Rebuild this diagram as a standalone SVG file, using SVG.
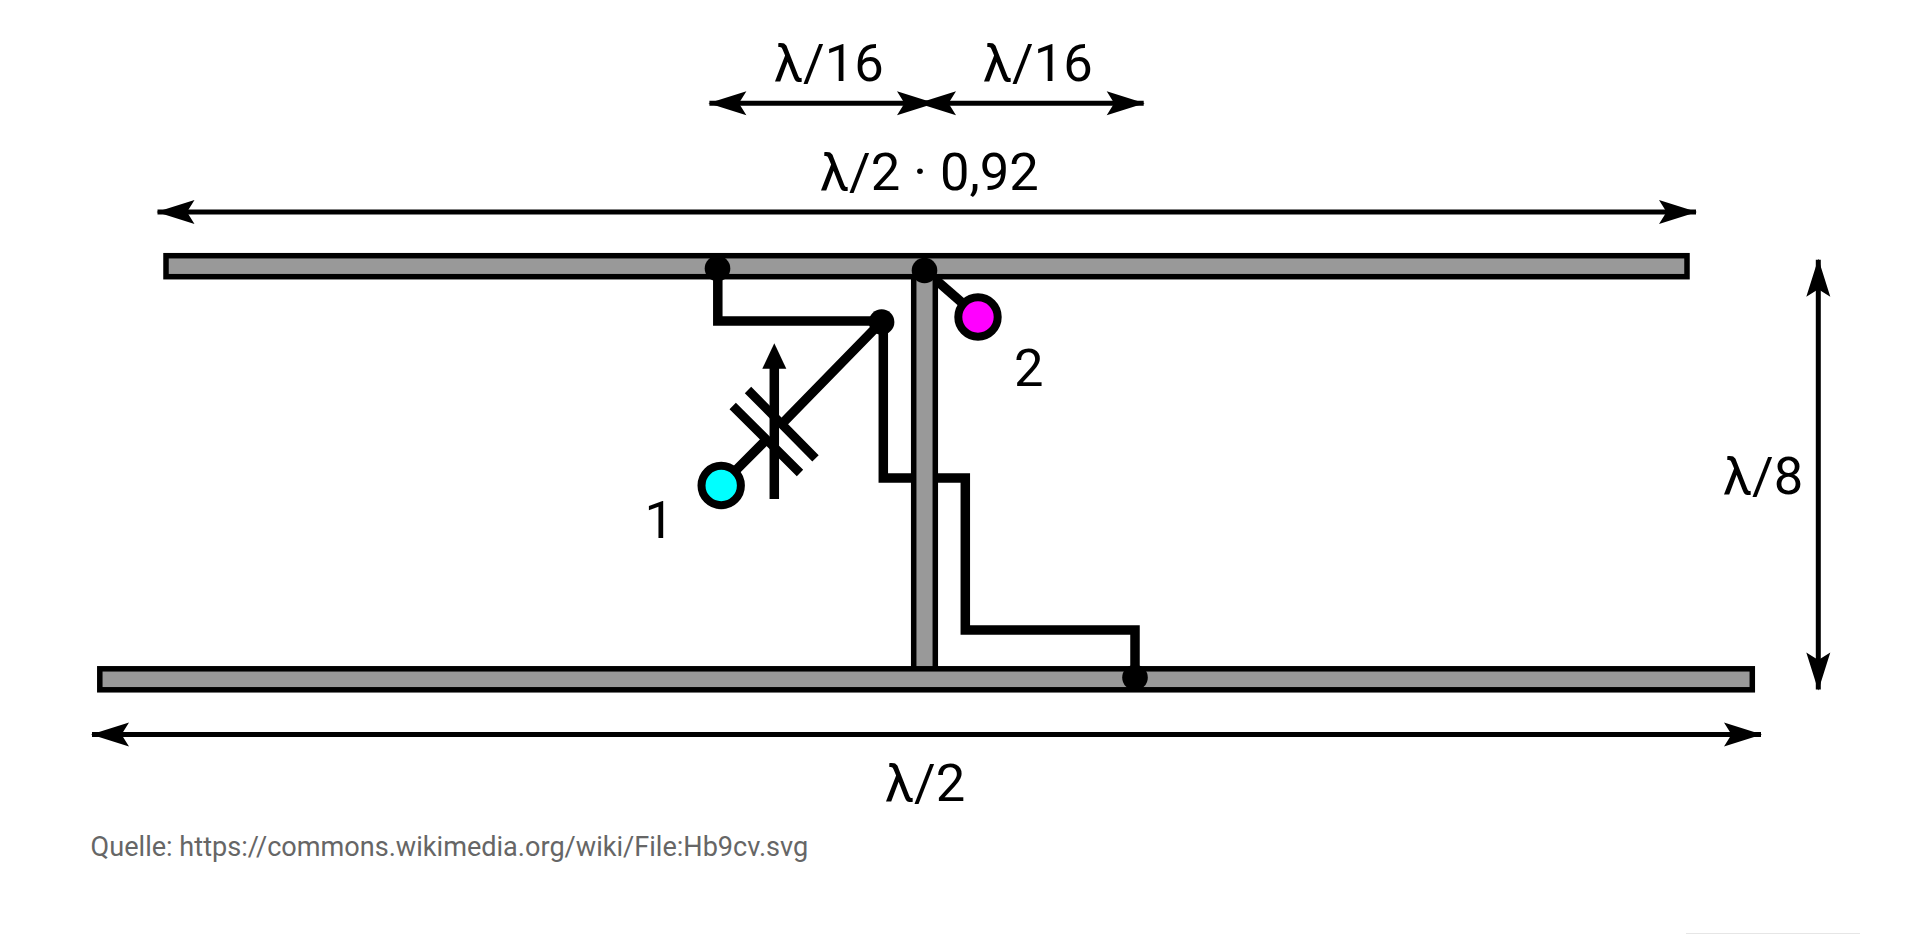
<svg xmlns="http://www.w3.org/2000/svg" width="1920" height="934" viewBox="0 0 1920 934">
<style>
.bar{fill:#999;stroke:#000;stroke-width:5.5}
.wire{fill:none;stroke:#000;stroke-width:9.5}
.dim{fill:none;stroke:#000;stroke-width:5;marker-start:url(#h);marker-end:url(#h)}
.dot{fill:#000}
.port{stroke:#000;stroke-width:8}
text{font-family:Roboto,"Liberation Sans",sans-serif;font-size:52.5px;fill:#000}
.src{font-size:27.1px;fill:#666}
</style>
<defs>
<marker id="h" markerUnits="userSpaceOnUse" viewBox="-38 -12 38 24" refX="-1" refY="0" markerWidth="38" markerHeight="24" orient="auto-start-reverse" overflow="visible"><path d="M0 0L-38 -12L-30.5 0L-38 12Z" fill="#000"/></marker>
</defs>
<rect width="1920" height="934" fill="#fff"/>
<rect x="1686" y="933" width="174" height="1" fill="#e6e6e6"/>
<g id="connectors">
<path class="wire" d="M717.8 268V321H881.6"/>
<path class="wire" d="M883.3 321V478H965.3V630H1135V677"/>
<path class="wire" d="M924.5 270L978 316.7"/>
<path class="wire" d="M881.6 321.7L781.8 424M766.4 439.7L721.2 485"/>
</g>
<g id="boom"><rect class="bar" x="913.7" y="270" width="21.6" height="402"/></g>
<g id="dipole-top"><rect class="bar" x="166" y="255.7" width="1521" height="21"/></g>
<g id="dipole-bottom"><rect class="bar" x="99.8" y="668.8" width="1652.5" height="21"/></g>
<g id="capacitor">
<path class="wire" style="stroke-width:9" d="M748 390L815.5 458.3M732.7 406L800 473"/>
<path class="wire" d="M774.3 499V365"/>
<path d="M774.3 343.3L786.3 368.7H762.3Z" fill="#000"/>
</g>
<g id="joints">
<circle class="dot" cx="717.5" cy="268.5" r="12.8"/>
<circle class="dot" cx="924.5" cy="270.5" r="12.8"/>
<circle class="dot" cx="881.6" cy="322" r="12.8"/>
<circle class="dot" cx="1135" cy="677.5" r="12.8"/>
</g>
<g id="port-1"><circle class="port" cx="721.2" cy="485.5" r="19.7" fill="#0ff"/><text x="644.5" y="538">1</text></g>
<g id="port-2"><circle class="port" cx="978" cy="317" r="19.7" fill="#f0f"/><text x="1014" y="386">2</text></g>
<g id="dimensions">
<line class="dim" x1="709.4" y1="103.3" x2="934" y2="103.3"/>
<line class="dim" x1="919" y1="103.3" x2="1143.7" y2="103.3"/>
<line class="dim" x1="157.5" y1="212" x2="1696" y2="212"/>
<line class="dim" x1="92" y1="734.5" x2="1761" y2="734.5"/>
<line class="dim" x1="1818.3" y1="259.7" x2="1818.3" y2="689.6"/>
<text x="774" y="81">λ/16</text>
<text x="983" y="81">λ/16</text>
<text x="820" y="190">λ/2 · 0,92</text>
<text x="1723" y="494">λ/8</text>
<text x="885" y="801">λ/2</text>
</g>
<text class="src" x="90.6" y="856">Quelle: https://commons.wikimedia.org/wiki/File:Hb9cv.svg</text>
</svg>
